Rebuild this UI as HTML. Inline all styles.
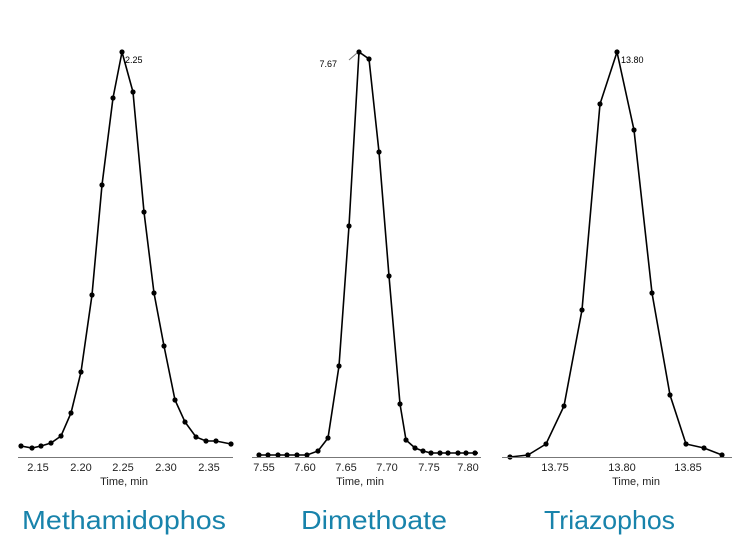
<!DOCTYPE html>
<html><head><style>body{margin:0;background:#fff}svg{display:block}</style></head><body>
<svg width="750" height="544" xmlns="http://www.w3.org/2000/svg" font-family="Liberation Sans, sans-serif">
<g stroke="#000" stroke-width="1.6" fill="none">
<polyline points="21,446 32,448 41,446 51,443 61,436 71,413 81,372 92,295 102,185 113,98 122,52 133,92 144,212 154,293 164,346 175,400 185,422 196,437 206,441 216,441 231,444"/>
<polyline points="259,455 268,455 278,455 287,455 297,455 307,455 318,451 328,438 339,366 349,226 359,52 369,59 379,152 389,276 400,404 406,440 415,448 423,451 431,453 440,453 448,453 458,453 466,453 478,453"/>
<polyline points="510,457 528,455 546,444 564,406 582,310 600,104 617,52 634,130 652,293 670,395 686,444 704,448 722,455"/>
</g>
<g fill="#000">
<g id="a">
<circle cx="21" cy="446" r="2.6"/><circle cx="32" cy="448" r="2.6"/><circle cx="41" cy="446" r="2.6"/><circle cx="51" cy="443" r="2.6"/><circle cx="61" cy="436" r="2.6"/><circle cx="71" cy="413" r="2.6"/><circle cx="81" cy="372" r="2.6"/><circle cx="92" cy="295" r="2.6"/><circle cx="102" cy="185" r="2.6"/><circle cx="113" cy="98" r="2.6"/><circle cx="122" cy="52" r="2.6"/><circle cx="133" cy="92" r="2.6"/><circle cx="144" cy="212" r="2.6"/><circle cx="154" cy="293" r="2.6"/><circle cx="164" cy="346" r="2.6"/><circle cx="175" cy="400" r="2.6"/><circle cx="185" cy="422" r="2.6"/><circle cx="196" cy="437" r="2.6"/><circle cx="206" cy="441" r="2.6"/><circle cx="216" cy="441" r="2.6"/><circle cx="231" cy="444" r="2.6"/>
</g>
<circle cx="259" cy="455" r="2.6"/><circle cx="268" cy="455" r="2.6"/><circle cx="278" cy="455" r="2.6"/><circle cx="287" cy="455" r="2.6"/><circle cx="297" cy="455" r="2.6"/><circle cx="307" cy="455" r="2.6"/><circle cx="318" cy="451" r="2.6"/><circle cx="328" cy="438" r="2.6"/><circle cx="339" cy="366" r="2.6"/><circle cx="349" cy="226" r="2.6"/><circle cx="359" cy="52" r="2.6"/><circle cx="369" cy="59" r="2.6"/><circle cx="379" cy="152" r="2.6"/><circle cx="389" cy="276" r="2.6"/><circle cx="400" cy="404" r="2.6"/><circle cx="406" cy="440" r="2.6"/><circle cx="415" cy="448" r="2.6"/><circle cx="423" cy="451" r="2.6"/><circle cx="431" cy="453" r="2.6"/><circle cx="440" cy="453" r="2.6"/><circle cx="448" cy="453" r="2.6"/><circle cx="458" cy="453" r="2.6"/><circle cx="466" cy="453" r="2.6"/><circle cx="475" cy="453" r="2.6"/>
<circle cx="510" cy="457" r="2.6"/><circle cx="528" cy="455" r="2.6"/><circle cx="546" cy="444" r="2.6"/><circle cx="564" cy="406" r="2.6"/><circle cx="582" cy="310" r="2.6"/><circle cx="600" cy="104" r="2.6"/><circle cx="617" cy="52" r="2.6"/><circle cx="634" cy="130" r="2.6"/><circle cx="652" cy="293" r="2.6"/><circle cx="670" cy="395" r="2.6"/><circle cx="686" cy="444" r="2.6"/><circle cx="704" cy="448" r="2.6"/><circle cx="722" cy="455" r="2.6"/>
</g>
<g stroke="#777" stroke-width="1">
<line x1="18" y1="457.5" x2="233" y2="457.5"/>
<line x1="252" y1="457.5" x2="481" y2="457.5"/>
<line x1="502" y1="457.5" x2="732" y2="457.5"/>
<line x1="357" y1="53" x2="349" y2="60"/>
</g>
<g font-size="9" fill="#000">
<text x="125" y="63">2.25</text>
<text x="337" y="67" text-anchor="end">7.67</text>
<text x="621" y="63">13.80</text>
</g>
<g font-size="11" fill="#222" text-anchor="middle">
<text x="38" y="471">2.15</text><text x="81" y="471">2.20</text><text x="123" y="471">2.25</text><text x="166" y="471">2.30</text><text x="209" y="471">2.35</text>
<text x="264" y="471">7.55</text><text x="305" y="471">7.60</text><text x="346" y="471">7.65</text><text x="387" y="471">7.70</text><text x="429" y="471">7.75</text><text x="468" y="471">7.80</text>
<text x="555" y="471">13.75</text><text x="622" y="471">13.80</text><text x="688" y="471">13.85</text>
<text x="124" y="485">Time, min</text><text x="360" y="485">Time, min</text><text x="636" y="485">Time, min</text>
</g>
<g font-size="26" fill="#1883ab">
<text x="22" y="529" textLength="204" lengthAdjust="spacingAndGlyphs">Methamidophos</text>
<text x="301" y="529" textLength="146" lengthAdjust="spacingAndGlyphs">Dimethoate</text>
<text x="544" y="529" textLength="131" lengthAdjust="spacingAndGlyphs">Triazophos</text>
</g>
</svg>
</body></html>
